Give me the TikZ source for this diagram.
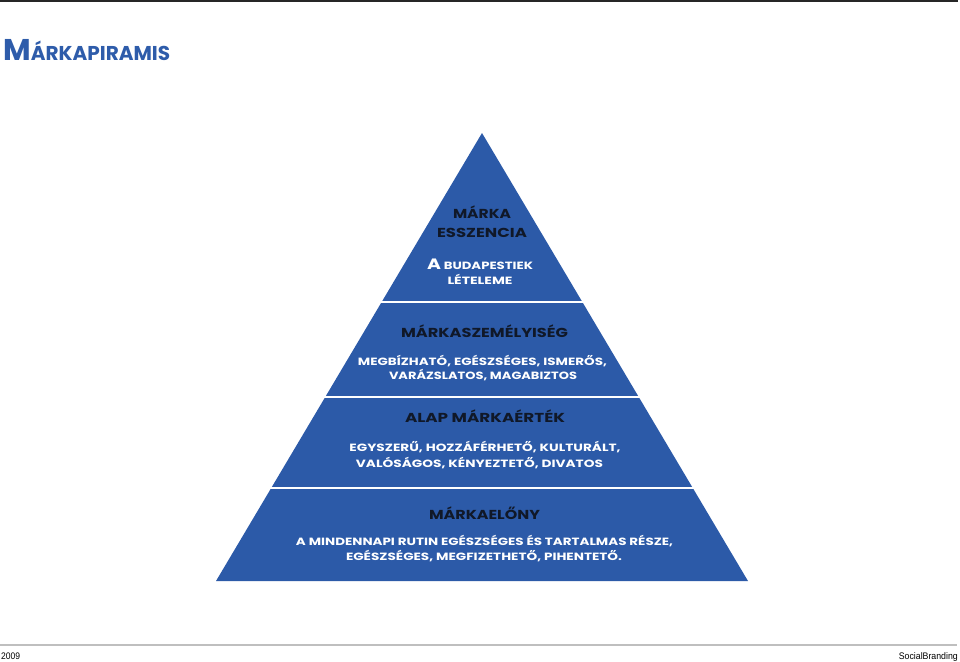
\documentclass[tikz,border=0pt]{standalone}
\usepackage{fontspec}
\setmainfont{Poppins}
\newfontfamily\footfont{Liberation Sans}
\usetikzlibrary{calc}
\definecolor{pblue}{HTML}{2C5AA8}
\definecolor{tblue}{HTML}{2E5CAA}
\definecolor{hdark}{HTML}{101828}
\newcommand{\fitw}[2]{\resizebox{#1}{\height}{#2}}
\begin{document}
\begin{tikzpicture}[x=1pt,y=-1pt,
  head/.style={anchor=base,inner sep=0pt,text=hdark,font=\fontsize{13}{13}\selectfont\bfseries},
  sub/.style={anchor=base,inner sep=0pt,text=white,font=\fontsize{10.5}{10.5}\selectfont\bfseries},
  sep/.style={draw=white,line width=2pt},
  foot/.style={inner sep=0pt,font=\footfont\fontsize{9.5}{9.5}\selectfont}]
\useasboundingbox (0,0) rectangle (960,661);
% top and bottom rules
\coordinate (tl) at (0,1);
\coordinate (tr) at (958,1);
\draw[line width=2pt,black!85] (tl) -- (tr);
\coordinate (fl) at (0,645);
\coordinate (fr) at (957,645);
\draw[line width=1.5pt,black!25] (fl) -- (fr);
% title
\node[anchor=base west,inner sep=0pt,text=tblue,font=\bfseries] (title) at (3,61)
  {\fitw{167pt}{{\fontsize{30}{30}\selectfont M}\fontsize{20}{20}\selectfont ÁRKAPIRAMIS}};
% pyramid
\coordinate (apex) at (482,133);
\coordinate (bl) at (216,581);
\coordinate (br) at (748,581);
\fill[pblue] (apex) -- (br) -- (bl) -- cycle;
\foreach \t/\n in {0.3772/a,0.5893/b,0.7924/c}{
  \coordinate (l\n) at ($(apex)!\t!(bl)$);
  \coordinate (r\n) at ($(apex)!\t!(br)$);
}
\draw[sep] ([xshift=-3pt]la) -- ([xshift=3pt]ra);
\draw[sep] ([xshift=-3pt]lb) -- ([xshift=3pt]rb);
\draw[sep] ([xshift=-3pt]lc) -- ([xshift=3pt]rc);
% band 1
\node[head] (h1a) at (482,218) {\fitw{58pt}{MÁRKA}};
\node[head] (h1b) at (482,237) {\fitw{90pt}{ESSZENCIA}};
\node[sub] (s1a) at (480,269) {\fitw{106pt}{{\fontsize{15}{15}\selectfont A} BUDAPESTIEK}};
\node[sub] (s1b) at (480,284) {\fitw{65pt}{LÉTELEME}};
% band 2
\node[head] (h2) at (484.5,337) {\fitw{167pt}{MÁRKASZEMÉLYISÉG}};
\node[sub] (s2a) at (482.5,365) {\fitw{249pt}{MEGBÍZHATÓ, EGÉSZSÉGES, ISMERŐS,}};
\node[sub] (s2b) at (483,379) {\fitw{188pt}{VARÁZSLATOS, MAGABIZTOS}};
% band 3
\node[head] (h3) at (485,422) {\fitw{160pt}{ALAP MÁRKAÉRTÉK}};
\node[sub] (s3a) at (485,451) {\fitw{271pt}{EGYSZERŰ, HOZZÁFÉRHETŐ, KULTURÁLT,}};
\node[sub] (s3b) at (479.5,467) {\fitw{247pt}{VALÓSÁGOS, KÉNYEZTETŐ, DIVATOS}};
% band 4
\node[head] (h4) at (484.5,519) {\fitw{111pt}{MÁRKAELŐNY}};
\node[sub] (s4a) at (484.5,545) {\fitw{377pt}{A MINDENNAPI RUTIN EGÉSZSÉGES ÉS TARTALMAS RÉSZE,}};
\node[sub] (s4b) at (484,560) {\fitw{276pt}{EGÉSZSÉGES, MEGFIZETHETŐ, PIHENTETŐ.}};
% footer
\node[foot,anchor=base west] (year) at (1,659) {\fitw{19pt}{2009}};
\node[foot,anchor=base east] (brand) at (958,659) {\fitw{59pt}{SocialBranding}};
\end{tikzpicture}
\end{document}
